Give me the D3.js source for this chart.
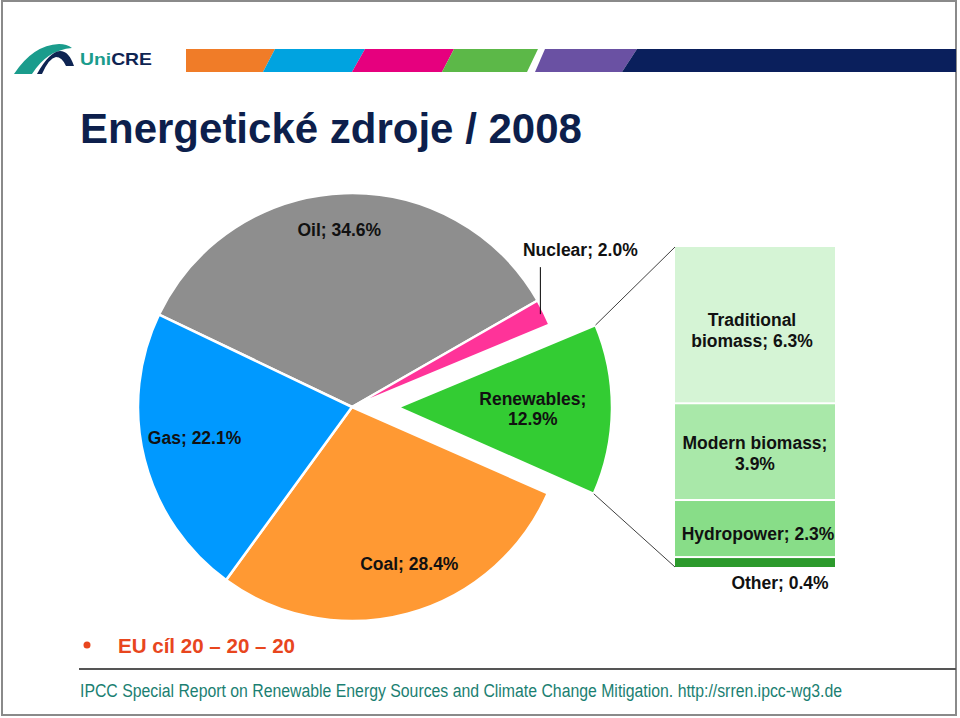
<!DOCTYPE html>
<html>
<head>
<meta charset="utf-8">
<script src="https://cdn.jsdelivr.net/npm/d3@7"></script>
<style>
  html, body { margin: 0; padding: 0; background: #fff; }
  svg { display: block; }
  text { font-family: "Liberation Sans", Arial, sans-serif; }
</style>
</head>
<body>
<svg id="chart" width="960" height="718"></svg>
<script>
// ---- data ----
const categories = ["Oil", "Nuclear", "Renewables", "Coal", "Gas"];
const shares = [34.6, 2.0, 12.9, 28.4, 22.1];
const renewCategories = ["Traditional biomass", "Modern biomass", "Hydropower", "Other"];
const renewShares = [6.3, 3.9, 2.3, 0.4];
const titleText = "Energetické zdroje / 2008";
const bulletText = "EU cíl 20 – 20 – 20";
const sourceText = "IPCC Special Report on Renewable Energy Sources and Climate Change Mitigation. http://srren.ipcc-wg3.de";

// ---- styles ----
const pieColors = { Oil: "#8e8e8e", Nuclear: "#ff3399", Renewables: "#33cc33", Coal: "#ff9933", Gas: "#0099ff" };
const barColors = ["#d5f4d5", "#a9e8a9", "#88dd88", "#2c9a2c"];
const fmt = v => d3.format(".1f")(v) + "%";

const svg = d3.select("#chart");

// slide frame
svg.append("rect").attr("x", 2).attr("y", 1).attr("width", 954).attr("height", 714)
  .attr("fill", "none").attr("stroke", "#8a8a8a").attr("stroke-width", 2);

// logo
const logo = svg.append("g");
logo.append("path").attr("d", "M14,74 Q33,45 59,44 Q67,44 72,48 Q47,50 32,74 Z").attr("fill", "#1a9c8c");
logo.append("path").attr("d", "M37,74 Q49,52 60,51 Q69,51 74,66 L66,66 Q62,57 56,57 Q49,58 42,74 Z").attr("fill", "#0e2452");
const lt = logo.append("text").attr("x", 80).attr("y", 65).attr("font-family", "Lato, sans-serif")
  .attr("font-weight", 700).attr("font-size", 16.5).attr("textLength", 72).attr("lengthAdjust", "spacingAndGlyphs");
lt.append("tspan").attr("fill", "#1a9c8c").text("Uni");
lt.append("tspan").attr("fill", "#0e2452").text("CRE");

// colour band
const band = [
  { c: "#f07c28", pts: [[186, 49], [275, 49], [263, 72], [186, 72]] },
  { c: "#00a3e0", pts: [[275, 49], [365, 49], [352, 72], [263, 72]] },
  { c: "#e6007e", pts: [[365, 49], [454, 49], [442, 72], [352, 72]] },
  { c: "#5cb848", pts: [[454, 49], [538, 49], [527, 72], [442, 72]] },
  { c: "#6a51a3", pts: [[545, 49], [637, 49], [622, 72], [535, 72]] },
  { c: "#0a1f5c", pts: [[637, 49], [956, 49], [956, 72], [622, 72]] }
];
svg.append("g").selectAll("polygon").data(band).join("polygon")
  .attr("points", d => d.pts.map(p => p.join(",")).join(" ")).attr("fill", d => d.c);

// title
svg.append("text").attr("x", 80).attr("y", 143).attr("font-size", 42).attr("font-weight", 700)
  .attr("fill", "#0d1f4c").text(titleText);

// ---- pie ----
const cx = 352, cy = 407, R = 214;
const deg = Math.PI / 180;
const start = -64.4 * deg;
const pieData = categories.map((k, i) => ({ key: k, v: shares[i] }));
const arcs = d3.pie().sort(null).value(d => d.v).startAngle(start).endAngle(start + 2 * Math.PI)(pieData);
const arc = d3.arc().innerRadius(0).outerRadius(R);
const explode = 46;
const offset = a => {
  if (a.data.key !== "Renewables") return [0, 0];
  const m = (a.startAngle + a.endAngle) / 2;
  return [explode * Math.sin(m), -explode * Math.cos(m)];
};

const pieG = svg.append("g").attr("transform", `translate(${cx},${cy})`);
pieG.selectAll("path").data(arcs).join("path")
  .attr("d", arc)
  .attr("transform", d => `translate(${offset(d)})`)
  .attr("fill", d => pieColors[d.data.key])
  .attr("stroke", "#fff").attr("stroke-width", 2.5).attr("stroke-linejoin", "round");

// labels
const labelCfg = {
  Oil: { r: 0.83, da: -2, lines: d => [d.data.key + "; " + fmt(d.data.v)] },
  Gas: { r: 0.75, da: 3, lines: d => [d.data.key + "; " + fmt(d.data.v)] },
  Coal: { r: 0.78, da: -5, lines: d => [d.data.key + "; " + fmt(d.data.v)] },
  Renewables: { r: 0.63, da: 0, lines: d => [d.data.key + ";", fmt(d.data.v)] }
};
const labelFont = 17.5;
arcs.forEach(d => {
  const cfg = labelCfg[d.data.key];
  if (!cfg) return;
  const m = (d.startAngle + d.endAngle) / 2 + cfg.da * deg;
  const off = offset(d);
  const x = off[0] + cfg.r * R * Math.sin(m);
  const y = off[1] - cfg.r * R * Math.cos(m);
  const lines = cfg.lines(d);
  const t = pieG.append("text").attr("text-anchor", "middle").attr("font-size", labelFont)
    .attr("font-weight", 700).attr("fill", "#111");
  lines.forEach((s, i) => {
    t.append("tspan").attr("x", x)
      .attr("y", y + 6 + (i - (lines.length - 1) / 2) * 20).text(s);
  });
});

// nuclear label with leader
const nuc = arcs.find(d => d.data.key === "Nuclear");
const nm = (nuc.startAngle + nuc.endAngle) / 2;
const nx = (R - 4) * Math.sin(nm), ny = -(R - 4) * Math.cos(nm);
pieG.append("line").attr("x1", nx).attr("y1", ny).attr("x2", nx).attr("y2", ny - 47)
  .attr("stroke", "#000").attr("stroke-width", 1);
pieG.append("text").attr("x", nx + 40).attr("y", ny - 58).attr("text-anchor", "middle")
  .attr("font-size", labelFont).attr("font-weight", 700).attr("fill", "#111")
  .text(nuc.data.key + "; " + fmt(nuc.data.v));

// ---- renewables breakdown bar ----
const barX = 675, barW = 160;
const total = d3.sum(renewShares);
const y = d3.scaleLinear().domain([0, total]).range([247, 567]);
let cum = 0;
const stack = renewCategories.map((k, i) => {
  const s = { key: k, v: renewShares[i], y0: cum, y1: cum + renewShares[i], i };
  cum += renewShares[i];
  return s;
});

// connector lines
const ren = arcs.find(d => d.data.key === "Renewables");
const ro = offset(ren);
const cTop = [cx + ro[0] + R * Math.sin(ren.startAngle), cy + ro[1] - R * Math.cos(ren.startAngle)];
const cBot = [cx + ro[0] + R * Math.sin(ren.endAngle), cy + ro[1] - R * Math.cos(ren.endAngle)];
svg.append("line").attr("x1", cTop[0]).attr("y1", cTop[1]).attr("x2", barX).attr("y2", y(0))
  .attr("stroke", "#404040").attr("stroke-width", 1);
svg.append("line").attr("x1", cBot[0]).attr("y1", cBot[1]).attr("x2", barX).attr("y2", y(total))
  .attr("stroke", "#404040").attr("stroke-width", 1);

svg.append("g").selectAll("rect").data(stack).join("rect")
  .attr("x", barX).attr("width", barW)
  .attr("y", d => y(d.y0) + (d.i > 0 ? 1 : 0))
  .attr("height", d => y(d.y1) - y(d.y0) - (d.i > 0 ? 1 : 0) - (d.i < stack.length - 1 ? 1 : 0))
  .attr("fill", (d, i) => barColors[i]);

const barLabels = [
  d => ["Traditional", "biomass; " + fmt(d.v)],
  d => ["Modern biomass;", fmt(d.v)],
  d => ["Hydropower; " + fmt(d.v)],
  d => ["Other; " + fmt(d.v)]
];
stack.forEach((d, i) => {
  const lines = barLabels[i](d);
  let yc = (y(d.y0) + y(d.y1)) / 2 + 2;
  let xc = barX + barW / 2;
  if (d.key === "Traditional biomass") { yc += 3; xc -= 3; }
  if (d.key === "Hydropower") { yc += 3; xc += 3; }
  if (d.key === "Other") { yc = y(d.y1) + 16; xc = barX + 105; }
  const t = svg.append("text").attr("text-anchor", "middle").attr("font-size", labelFont)
    .attr("font-weight", 700).attr("fill", "#111");
  lines.forEach((s, j) => {
    t.append("tspan").attr("x", xc).attr("y", yc + 6 + (j - (lines.length - 1) / 2) * 21).text(s);
  });
});

// ---- bullet & footer ----
svg.append("circle").attr("cx", 87).attr("cy", 645).attr("r", 3.5).attr("fill", "#e8461e");
svg.append("text").attr("x", 118).attr("y", 653).attr("font-family", "'Open Sans', sans-serif")
  .attr("font-weight", 600)
  .attr("font-size", 21).attr("fill", "#e8461e").attr("textLength", 177).attr("lengthAdjust", "spacingAndGlyphs")
  .text(bulletText);
svg.append("line").attr("x1", 79).attr("x2", 956).attr("y1", 669).attr("y2", 669)
  .attr("stroke", "#555").attr("stroke-width", 2);
svg.append("text").attr("x", 80).attr("y", 697).attr("font-size", 18).attr("fill", "#1b7f72")
  .attr("textLength", 762).attr("lengthAdjust", "spacingAndGlyphs").text(sourceText);
</script>
</body>
</html>
